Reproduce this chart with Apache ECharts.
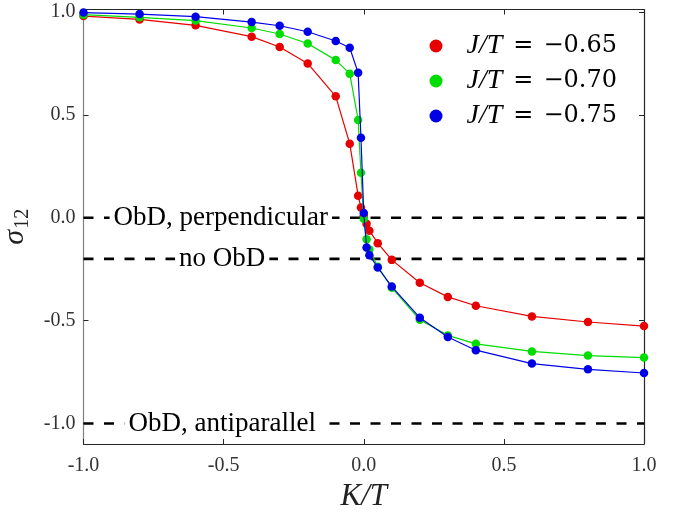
<!DOCTYPE html>
<html>
<head>
<meta charset="utf-8">
<script src="https://cdn.jsdelivr.net/npm/echarts@6/dist/echarts.min.js"></script>
<style>
html,body{margin:0;padding:0;background:#fff;}
#c{width:686px;height:515px;}
</style>
</head>
<body>
<div id="c"></div>
<script>
var xs = [-1, -0.8, -0.6, -0.4, -0.3, -0.2, -0.1, -0.05, -0.02, -0.01, 0, 0.01, 0.02, 0.05, 0.1, 0.2, 0.3, 0.4, 0.6, 0.8, 1.0];
var red = [0.98, 0.964, 0.935, 0.88, 0.83, 0.75, 0.59, 0.36, 0.107, 0.05, 0.01, -0.03, -0.063, -0.124, -0.205, -0.316, -0.385, -0.428, -0.48, -0.507, -0.527];
var green = [0.987, 0.974, 0.958, 0.922, 0.893, 0.847, 0.766, 0.70, 0.475, 0.218, -0.005, -0.105, -0.155, -0.238, -0.34, -0.496, -0.572, -0.613, -0.65, -0.67, -0.68];
var blue = [0.997, 0.99, 0.977, 0.951, 0.933, 0.904, 0.859, 0.826, 0.704, 0.389, 0.023, -0.145, -0.182, -0.242, -0.335, -0.486, -0.58, -0.644, -0.709, -0.737, -0.755];
var seriesNames = ['J/T = \u22120.65', 'J/T = \u22120.70', 'J/T = \u22120.75'];
var seriesValues = ['\u22120.65', '\u22120.70', '\u22120.75'];
var refValues = [0, -0.2, -1.0];
var refLabels = ['ObD, perpendicular', 'no ObD', 'ObD, antiparallel'];
var refLabelX = [-0.51, -0.505, -0.505];
var xTicks = [-1, -0.5, 0, 0.5, 1];
var yTicks = [-1, -0.5, 0, 0.5, 1];

var colors = ['#e60000', '#00dd00', '#0000e6'];
var serif = 'Liberation Serif';
var mathFont = 'DejaVu Serif';
function pairs(v){ return xs.map(function(x,i){ return [x, v[i]]; }); }
function fmt(v){ return (v < 0 ? '-' : '') + Math.abs(v).toFixed(1); }

var series = [];
refValues.forEach(function(v){
  series.push({
    type: 'line', data: [[-1, v], [1, v]], symbol: 'none', silent: true, z: 1,
    lineStyle: {color: '#000', width: 2.6, type: [10, 10.5]}, animation: false
  });
});
series.push({
  type: 'scatter', symbolSize: 0, z: 2, silent: true, animation: false,
  itemStyle: {opacity: 1},
  data: refLabels.map(function(t, i){ return [refLabelX[i], refValues[i], t]; }),
  label: {
    show: true, position: 'inside',
    formatter: function(p){ return p.data[2]; },
    fontFamily: serif, fontSize: 27, color: '#000',
    backgroundColor: '#fff', padding: [0, 4]
  }
});
[red, green, blue].forEach(function(v, i){
  series.push({
    name: seriesNames[i], type: 'line', data: pairs(v), z: 3 + i,
    symbol: 'circle', symbolSize: 8.5, animation: false,
    itemStyle: {color: colors[i]},
    lineStyle: {color: colors[i], width: 1.2}
  });
});

var chart = echarts.init(document.getElementById('c'), null, {renderer: 'canvas'});
chart.setOption({
  backgroundColor: '#fff',
  animation: false,
  grid: {left: 83.5, right: 42, top: 9.5, bottom: 71, outerBoundsMode: 'none', containLabel: false},
  legend: {
    data: seriesNames, orient: 'vertical', left: 429.5, top: 32, padding: 0,
    icon: 'circle', itemWidth: 13, itemHeight: 13, itemGap: 7,
    formatter: function(name){ var i = seriesNames.indexOf(name); return '{i|J/T}{e|=}{n|' + seriesValues[i] + '}'; },
    textStyle: {
      padding: [0, 0, 0, 19], lineHeight: 26,
      rich: {
        i: {fontFamily: serif, fontStyle: 'italic', fontSize: 28, color: '#000', lineHeight: 26},
        e: {fontFamily: mathFont, fontSize: 24, color: '#000', lineHeight: 26, padding: [0, 10, 0, 11]},
        n: {fontFamily: mathFont, fontSize: 24, color: '#000', lineHeight: 26}
      }
    }
  },
  xAxis: [{
    type: 'value', min: -1, max: 1, position: 'bottom',
    name: 'K/T', nameLocation: 'middle', nameGap: 36,
    nameTextStyle: {fontFamily: serif, fontStyle: 'italic', fontSize: 31, color: '#222'},
    axisLine: {show: true, onZero: false, lineStyle: {color: '#262626', width: 1.2}},
    axisTick: {show: true, inside: true, length: 5, customValues: xTicks, lineStyle: {color: '#262626'}},
    axisLabel: {customValues: xTicks, formatter: fmt, fontFamily: serif, fontSize: 20, color: '#333', margin: 12},
    splitLine: {show: false}
  }, {
    type: 'value', min: -1, max: 1, position: 'top',
    axisLine: {show: true, onZero: false, lineStyle: {color: '#262626', width: 1.2}},
    axisTick: {show: true, inside: true, length: 5, customValues: xTicks, lineStyle: {color: '#262626'}},
    axisLabel: {show: false}, splitLine: {show: false}
  }],
  yAxis: [{
    type: 'value', min: -1.1, max: 1.012, position: 'left',
    name: '{s|\u03c3}{b|12}', nameLocation: 'middle', nameGap: 44, nameRotate: 90,
    nameTextStyle: {
      rich: {
        s: {fontFamily: serif, fontStyle: 'italic', fontSize: 30, color: '#222', lineHeight: 36, verticalAlign: 'middle'},
        b: {fontFamily: serif, fontSize: 20, color: '#222', lineHeight: 36, verticalAlign: 'bottom', padding: [10, 0, 0, 1]}
      }
    },
    axisLine: {show: true, onZero: false, lineStyle: {color: '#808080', width: 1.2}},
    axisTick: {show: true, inside: true, length: 5, customValues: yTicks, lineStyle: {color: '#262626'}},
    axisLabel: {customValues: yTicks, formatter: fmt, fontFamily: serif, fontSize: 20, color: '#333', margin: 8},
    splitLine: {show: false}
  }, {
    type: 'value', min: -1.1, max: 1.012, position: 'right',
    axisLine: {show: true, onZero: false, lineStyle: {color: '#262626', width: 1.2}},
    axisTick: {show: true, inside: true, length: 5, customValues: yTicks, lineStyle: {color: '#262626'}},
    axisLabel: {show: false}, splitLine: {show: false}
  }],
  series: series
});
</script>
</body>
</html>
